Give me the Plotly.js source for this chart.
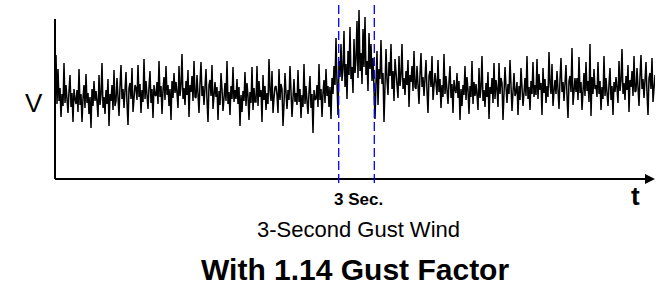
<!DOCTYPE html>
<html>
<head>
<meta charset="utf-8">
<script src="https://cdn.plot.ly/plotly-3.0.1.min.js"></script>
<style>
html,body{margin:0;padding:0;background:#fff;}
#chart{width:661px;height:287px;}
</style>
</head>
<body>
<div id="chart"></div>
<script>
// Wind speed record (arbitrary units), one sample per time unit
const windSpeed = [
  124, 75, 110, 78, 91, 62, 85, 73, 116, 76, 94, 79, 66, 88, 104, 72, 86, 57, 90, 80,
  75, 89, 67, 110, 74, 85, 57, 81, 94, 71, 105, 76, 86, 65, 82, 51, 90, 73, 98, 78,
  88, 77, 62, 104, 74, 84, 116, 71, 82, 65, 89, 75, 100, 53, 85, 78, 94, 69, 109, 73,
  78, 101, 82, 63, 93, 114, 80, 90, 71, 87, 107, 76, 54, 91, 96, 80, 111, 67, 85, 94,
  91, 79, 114, 82, 95, 66, 89, 77, 120, 80, 98, 83, 70, 92, 108, 76, 90, 61, 94, 84,
  83, 97, 75, 118, 82, 93, 65, 89, 102, 79, 113, 84, 94, 73, 90, 59, 98, 81, 106, 86,
  97, 86, 71, 113, 83, 93, 125, 80, 91, 74, 98, 84, 109, 62, 94, 87, 103, 78, 118, 82,
  81, 104, 85, 66, 96, 117, 83, 93, 74, 90, 110, 79, 57, 94, 99, 83, 114, 70, 88, 97,
  82, 92, 59, 88, 74, 106, 90, 68, 81, 96, 78, 118, 75, 87, 64, 93, 80, 112, 77, 89,
  80, 100, 75, 92, 53, 84, 67, 88, 78, 107, 73, 96, 83, 59, 87, 76, 112, 69, 91, 77,
  77, 113, 73, 98, 82, 89, 57, 104, 79, 93, 69, 86, 75, 120, 88, 78, 108, 66, 81, 92,
  93, 84, 66, 110, 79, 95, 90, 53, 75, 106, 86, 70, 89, 79, 113, 92, 62, 81, 100, 77,
  86, 74, 109, 77, 90, 61, 84, 72, 115, 75, 93, 78, 65, 87, 103, 71, 85, 46, 89, 79,
  80, 94, 72, 115, 79, 90, 62, 86, 99, 76, 110, 83, 93, 72, 92, 60, 101, 85, 113, 94,
  141, 96, 64, 118, 102, 135, 98, 110, 148, 92, 115, 80, 128, 104, 152, 100, 112, 86, 140, 106,
  120, 158, 101, 169, 108, 126, 95, 150, 112, 162, 104, 118, 88, 146, 110, 135, 98, 121, 84, 60,
  96, 128, 74, 110, 100, 139, 95, 106, 57, 112, 130, 99, 84, 117, 103, 135, 90, 108, 78, 120,
  107, 96, 81, 123, 93, 103, 135, 90, 101, 84, 108, 94, 119, 72, 104, 97, 113, 88, 128, 92,
  90, 113, 94, 75, 105, 126, 92, 102, 83, 99, 119, 88, 66, 103, 108, 92, 123, 79, 97, 106,
  96, 84, 119, 87, 100, 71, 94, 82, 125, 85, 103, 88, 75, 97, 113, 81, 95, 66, 99, 89,
  86, 106, 81, 98, 59, 90, 73, 94, 84, 113, 79, 102, 89, 65, 93, 82, 118, 75, 97, 83,
  95, 84, 69, 111, 81, 91, 123, 78, 89, 72, 96, 82, 107, 60, 92, 85, 101, 76, 116, 80,
  99, 90, 72, 116, 85, 101, 96, 59, 81, 112, 92, 76, 95, 85, 119, 98, 68, 87, 106, 83,
  87, 97, 64, 93, 79, 111, 95, 73, 86, 101, 83, 123, 80, 92, 69, 98, 85, 117, 82, 94,
  84, 120, 80, 105, 89, 96, 64, 111, 86, 100, 76, 93, 82, 127, 95, 85, 115, 73, 88, 99,
  85, 108, 89, 70, 100, 121, 87, 97, 78, 94, 114, 83, 61, 98, 103, 87, 131, 74, 92, 101,
  87, 101, 79, 122, 86, 97, 69, 93, 106, 83, 117, 88, 98, 77, 135, 63, 102, 85, 110, 90,
  94, 82, 117, 85, 98, 69, 92, 80, 123, 83, 101, 86, 73, 95, 111, 79, 93, 64, 97, 87,
  102, 91, 76, 118, 88, 98, 130, 85, 96, 79, 103, 89, 114, 67, 99, 92, 108, 83, 123, 87,
  88, 111, 92, 73, 103, 124, 90, 100, 81, 97, 117, 86, 64, 101, 106, 90, 121, 77, 95, 104
];
const sampleStep = 1;
const gustWindow = [283.7, 319.3];   // start / end of the 3-second window (time units)
const labels = {
  vAxis: "V",
  tAxis: "t",
  window: "3 Sec.",
  subtitle: "3-Second Gust Wind",
  title: "With 1.14 Gust Factor"
};

const time = windSpeed.map((_, i) => sampleStep + i * sampleStep);
const FONT = "Liberation Sans, Arial, Helvetica, sans-serif";

const trace = {
  x: time, y: windSpeed, type: "scatter", mode: "lines",
  line: {color: "#000", width: 1.5}, hoverinfo: "skip"
};

const layout = {
  width: 661, height: 287,
  margin: {l: 55, r: 6, t: 0, b: 108, pad: 0},
  paper_bgcolor: "#fff", plot_bgcolor: "#fff",
  showlegend: false,
  xaxis: {range: [0, 600], visible: false, fixedrange: true},
  yaxis: {range: [0, 179], visible: false, fixedrange: true},
  shapes: [
    {type: "line", xref: "paper", yref: "paper", x0: 0, x1: 0, y0: 0, y1: 0.894,
     line: {color: "#000", width: 2}},
    {type: "line", xref: "paper", yref: "paper", x0: 0, x1: 0.985, y0: 0, y1: 0,
     line: {color: "#000", width: 2}},
    {type: "line", xref: "x", yref: "paper", x0: gustWindow[0], x1: gustWindow[0], y0: -0.022, y1: 0.972,
     line: {color: "#0000ff", width: 1.3, dash: "9px,4px"}},
    {type: "line", xref: "x", yref: "paper", x0: gustWindow[1], x1: gustWindow[1], y0: -0.022, y1: 0.972,
     line: {color: "#0000ff", width: 1.3, dash: "9px,4px"}}
  ],
  annotations: [
    {xref: "paper", yref: "paper", x: 1.0, y: 0, ax: -12, ay: 0, axref: "pixel", ayref: "pixel",
     showarrow: true, arrowhead: 2, arrowsize: 1, arrowwidth: 2, arrowcolor: "#000", text: ""},
    {xref: "paper", yref: "paper", x: -0.0358, y: 0.4246, text: labels.vAxis, showarrow: false,
     xanchor: "center", yanchor: "middle", font: {family: FONT, size: 26, color: "#000"}},
    {xref: "paper", yref: "paper", x: 0.9683, y: -0.095, text: "<b>" + labels.tAxis + "</b>", showarrow: false,
     xanchor: "center", yanchor: "middle", font: {family: FONT, size: 26, color: "#000"}},
    {xref: "paper", yref: "paper", x: 0.505, y: -0.1173, text: "<b>" + labels.window + "</b>", showarrow: false,
     xanchor: "center", yanchor: "middle", font: {family: FONT, size: 17, color: "#000"}},
    {xref: "paper", yref: "paper", x: 0.505, y: -0.281, text: labels.subtitle, showarrow: false,
     xanchor: "center", yanchor: "middle", font: {family: FONT, size: 22, color: "#000"}},
    {xref: "paper", yref: "paper", x: 0.5, y: -0.5056, text: "<b>" + labels.title + "</b>", showarrow: false,
     xanchor: "center", yanchor: "middle", font: {family: FONT, size: 30, color: "#000"}}
  ]
};

Plotly.newPlot("chart", [trace], layout, {displayModeBar: false, staticPlot: true});
</script>
</body>
</html>
